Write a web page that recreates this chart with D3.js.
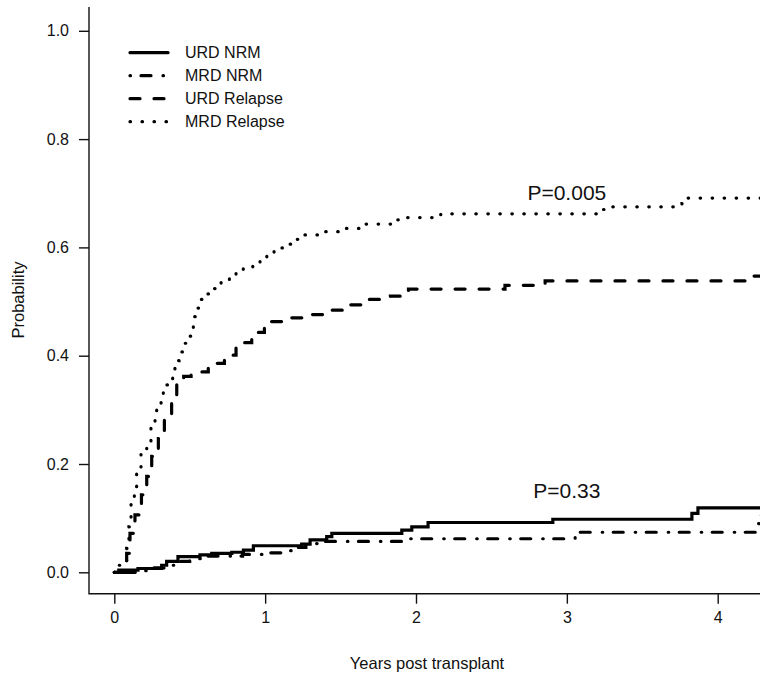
<!DOCTYPE html>
<html>
<head>
<meta charset="utf-8">
<script src="https://cdn.jsdelivr.net/npm/d3@7"></script>
<style>
  html, body { margin: 0; padding: 0; background: #fff; }
  svg { display: block; font-family: "Liberation Sans", Arial, sans-serif; }
</style>
</head>
<body>
<div id="chart"></div>
<script>
const width = 760;
const height = 679;

// [years, probability] step points
const urdNrm = [
  [0, 0], [0.03, 0.004], [0.157, 0.007], [0.314, 0.013], [0.347, 0.02], [0.422, 0.029],
  [0.568, 0.032], [0.646, 0.035], [0.779, 0.037], [0.856, 0.041], [0.922, 0.049],
  [1.242, 0.052], [1.298, 0.06], [1.408, 0.066], [1.442, 0.072], [1.906, 0.078],
  [1.972, 0.084], [2.08, 0.092], [2.907, 0.098], [3.829, 0.109], [3.869, 0.119], [4.4, 0.119]
];
const mrdNrm = [
  [0, 0], [0.15, 0.003], [0.24, 0.008], [0.38, 0.013], [0.42, 0.02], [0.5, 0.025],
  [0.6, 0.03], [0.85, 0.033], [1.0, 0.036], [1.12, 0.04], [1.2, 0.046], [1.27, 0.053],
  [1.4, 0.057], [1.95, 0.062], [3.055, 0.074], [4.26, 0.09], [4.28, 0.105], [4.4, 0.105]
];
const urdRelapse = [
  [0, 0], [0.07, 0.005], [0.082, 0.035], [0.104, 0.072], [0.137, 0.106], [0.18, 0.143],
  [0.215, 0.177], [0.248, 0.214], [0.292, 0.247], [0.332, 0.281], [0.38, 0.315],
  [0.414, 0.349], [0.46, 0.362], [0.509, 0.37], [0.623, 0.386], [0.73, 0.401],
  [0.807, 0.424], [0.911, 0.443], [0.995, 0.463], [1.154, 0.47], [1.286, 0.476],
  [1.419, 0.484], [1.55, 0.494], [1.684, 0.504], [1.83, 0.51], [1.95, 0.523],
  [2.59, 0.53], [2.856, 0.538], [4.2, 0.547], [4.4, 0.547]
];
const mrdRelapse = [
  [0, 0], [0.027, 0.013], [0.082, 0.044], [0.097, 0.084], [0.111, 0.127], [0.133, 0.149],
  [0.148, 0.189], [0.177, 0.223], [0.215, 0.238], [0.243, 0.272], [0.27, 0.29],
  [0.281, 0.309], [0.31, 0.327], [0.325, 0.346], [0.387, 0.374], [0.402, 0.391],
  [0.429, 0.407], [0.453, 0.423], [0.487, 0.436], [0.513, 0.452], [0.524, 0.472],
  [0.553, 0.488], [0.575, 0.504], [0.619, 0.514], [0.663, 0.524], [0.708, 0.537],
  [0.763, 0.543], [0.807, 0.554], [0.855, 0.563], [0.918, 0.569], [0.966, 0.579],
  [1.011, 0.59], [1.059, 0.599], [1.117, 0.606], [1.17, 0.615], [1.227, 0.623],
  [1.366, 0.629], [1.508, 0.635], [1.651, 0.643], [1.873, 0.651], [1.939, 0.655],
  [2.164, 0.662], [3.216, 0.67], [3.276, 0.675], [3.763, 0.681], [3.8, 0.691], [4.4, 0.691]
];

const seriesNames = ["URD NRM", "MRD NRM", "URD Relapse", "MRD Relapse"];
const seriesData = [urdNrm, mrdNrm, urdRelapse, mrdRelapse];
const dashes = [null, "0.5,10.5,10,12", "10,14", "0.5,11.5"];

const xTicks = [0, 1, 2, 3, 4];
const yTicks = [0, 0.2, 0.4, 0.6, 0.8, 1.0];
const pLabels = [
  { text: "P=0.005", x: 3.0, y: 0.687 },
  { text: "P=0.33", x: 3.0, y: 0.137 }
];

const x = d3.scaleLinear().domain([0, 4]).range([114.3, 717.7]);
const y = d3.scaleLinear().domain([0, 1]).range([572.3, 30.8]);

const svg = d3
  .select("#chart")
  .append("svg")
  .attr("width", width)
  .attr("height", height);

// L-shaped frame
const frameLeft = 89, frameTop = 7, frameBottom = 593.7;
svg.append("path")
  .attr("d", `M${frameLeft},${frameTop}V${frameBottom}H${width + 5}`)
  .attr("fill", "none")
  .attr("stroke", "#111")
  .attr("stroke-width", 1.4);

const xAxis = svg.append("g")
  .attr("transform", `translate(0,${frameBottom})`)
  .call(d3.axisBottom(x).tickValues(xTicks).tickSize(10).tickPadding(8).tickFormat(d3.format("d")));
xAxis.select(".domain").remove();

const yAxis = svg.append("g")
  .attr("transform", `translate(${frameLeft},0)`)
  .call(d3.axisLeft(y).tickValues(yTicks).tickSize(10).tickPadding(10).tickFormat(d3.format(".1f")));
yAxis.select(".domain").remove();

svg.selectAll(".tick line").attr("stroke", "#111").attr("stroke-width", 1.4);
svg.selectAll(".tick text")
  .attr("font-size", 16)
  .attr("font-family", "Liberation Sans, Arial, sans-serif")
  .attr("fill", "#111");

// axis titles
svg.append("text")
  .attr("x", 427)
  .attr("y", 669)
  .attr("text-anchor", "middle")
  .attr("font-size", 16.5)
  .attr("fill", "#111")
  .text("Years post transplant");

svg.append("text")
  .attr("transform", "translate(24,300) rotate(-90)")
  .attr("text-anchor", "middle")
  .attr("font-size", 16.5)
  .attr("fill", "#111")
  .text("Probability");

// curves
const line = d3.line()
  .x((d) => x(d[0]))
  .y((d) => y(d[1]))
  .curve(d3.curveStepAfter);

svg.append("g")
  .selectAll("path")
  .data(seriesData)
  .join("path")
  .attr("d", line)
  .attr("fill", "none")
  .attr("stroke", "#000")
  .attr("stroke-width", 3.2)
  .attr("stroke-linecap", "round")
  .attr("stroke-dasharray", (d, i) => dashes[i]);

// p-value labels
svg.append("g")
  .selectAll("text")
  .data(pLabels)
  .join("text")
  .attr("x", (d) => x(d.x))
  .attr("y", (d) => y(d.y))
  .attr("text-anchor", "middle")
  .attr("font-size", 21)
  .attr("fill", "#111")
  .text((d) => d.text);

// legend
const legend = svg.append("g").attr("transform", "translate(130,52.7)");
const rows = legend.selectAll("g")
  .data(seriesNames)
  .join("g")
  .attr("transform", (d, i) => `translate(0,${i * 23})`);

rows.append("line")
  .attr("x1", 0)
  .attr("x2", 38)
  .attr("stroke", "#000")
  .attr("stroke-width", 3.2)
  .attr("stroke-linecap", "round")
  .attr("stroke-dasharray", (d, i) => dashes[i]);

rows.append("text")
  .attr("x", 55)
  .attr("y", 5.5)
  .attr("font-size", 16)
  .attr("fill", "#111")
  .text((d) => d);
</script>
</body>
</html>
